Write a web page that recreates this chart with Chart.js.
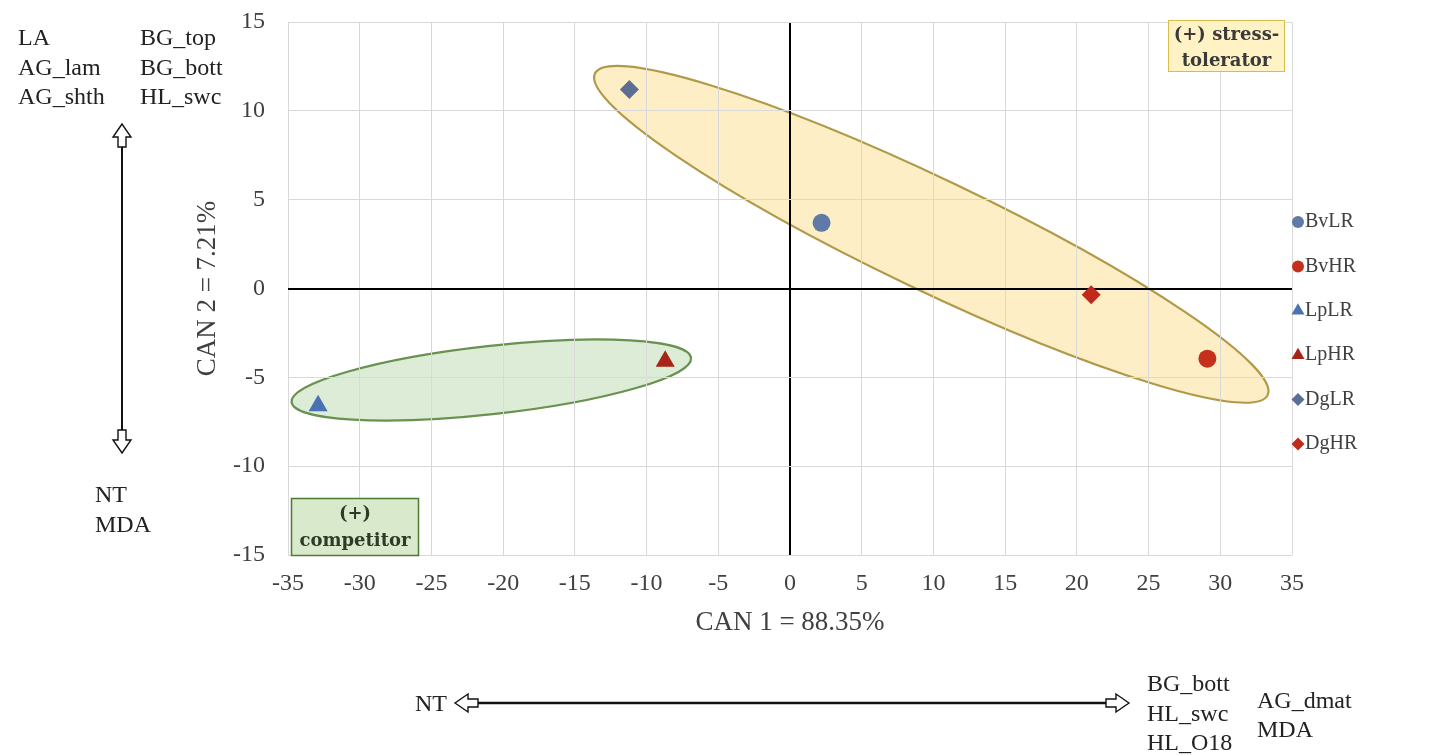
<!DOCTYPE html>
<html>
<head>
<meta charset="utf-8">
<script src="https://cdn.jsdelivr.net/npm/chart.js@4.4.1/dist/chart.umd.min.js"></script>
<style>
  html, body { margin: 0; padding: 0; background: #fff; }
  #wrap { width: 1440px; height: 756px; }
</style>
</head>
<body>
<div id="wrap"><canvas id="can" width="1440" height="756"></canvas></div>
<script>
// group scores on the two canonical axes
const groups = ['BvLR', 'BvHR', 'LpLR', 'LpHR', 'DgLR', 'DgHR'];
const can1 = [2.2, 29.1, -32.9, -8.7, -11.2, 21.0];
const can2 = [3.7, -3.95, -6.6, -4.1, 11.2, -0.35];

// ellipses: ends of the long axis, in CAN1 / CAN2 units
const hullNames = ['stress-tolerator', 'competitor'];
const hullStartX = [-13.6, -34.75];
const hullStartY = [12.1, -6.4];
const hullEndX = [33.3, -6.9];
const hullEndY = [-6.0, -3.9];

// loadings written around the plot
const topLeftCol1 = ['LA', 'AG_lam', 'AG_shth'];
const topLeftCol2 = ['BG_top', 'BG_bott', 'HL_swc'];
const bottomLeft = ['NT', 'MDA'];
const rightCol1 = ['BG_bott', 'HL_swc', 'HL_O18'];
const rightCol2 = ['AG_dmat', 'MDA'];

// styles
const markers = ['circle', 'circle', 'triangle', 'triangle', 'rectRot', 'rectRot'];
const markerSize = [9, 9, 11, 11, 9.5, 9.5];
const legendSize = [6, 6, 7.5, 7.5, 6.5, 6.5];
const colors = ['#5f7aa6', '#c4301c', '#4a72b2', '#a62418', '#5a6f92', '#bf2a1a'];
const hullRatio = [0.149, 0.17];
const hullFill = ['rgba(252, 213, 110, 0.40)', 'rgba(120, 180, 90, 0.25)'];
const hullLine = ['#b09a4a', '#6a9150'];

const serif = '"Liberation Serif", "Times New Roman", serif';
const textCol = '#404040';

const datasets = groups.map((g, i) => ({
    label: g,
    data: [{ x: can1[i], y: can2[i] }],
    pointStyle: markers[i],
    pointRadius: markerSize[i],
    backgroundColor: colors[i],
    borderColor: colors[i],
    borderWidth: 0
}));

// ellipses behind the grid
const hullPlugin = {
    id: 'hulls',
    beforeDraw(chart) {
        const { ctx } = chart;
        const xs = chart.scales.x, ys = chart.scales.y;
        hullNames.forEach((n, i) => {
            const x1 = xs.getPixelForValue(hullStartX[i]), y1 = ys.getPixelForValue(hullStartY[i]);
            const x2 = xs.getPixelForValue(hullEndX[i]), y2 = ys.getPixelForValue(hullEndY[i]);
            const a = Math.hypot(x2 - x1, y2 - y1) / 2;
            ctx.save();
            ctx.beginPath();
            ctx.ellipse((x1 + x2) / 2, (y1 + y2) / 2, a, a * hullRatio[i], Math.atan2(y2 - y1, x2 - x1), 0, Math.PI * 2);
            ctx.fillStyle = hullFill[i];
            ctx.fill();
            ctx.lineWidth = 2.2;
            ctx.strokeStyle = hullLine[i];
            ctx.stroke();
            ctx.restore();
        });
    }
};

function marker(ctx, style, r, x, y) {
    ctx.beginPath();
    if (style === 'circle') {
        ctx.arc(x, y, r, 0, Math.PI * 2);
    } else if (style === 'triangle') {
        ctx.moveTo(x, y - r);
        ctx.lineTo(x + r * 0.866, y + r / 2);
        ctx.lineTo(x - r * 0.866, y + r / 2);
    } else {
        ctx.moveTo(x, y - r);
        ctx.lineTo(x + r, y);
        ctx.lineTo(x, y + r);
        ctx.lineTo(x - r, y);
    }
    ctx.closePath();
    ctx.fill();
}

// open block arrow head; (dx, dy) points from the tip back along the shaft
function arrowHead(ctx, tx, ty, dx, dy) {
    const px = -dy, py = dx;
    const pt = (d, w) => [tx + dx * d + px * w, ty + dy * d + py * w];
    const pts = [pt(0, 0), pt(13, 9), pt(13, 4), pt(23, 4), pt(23, -4), pt(13, -4), pt(13, -9)];
    ctx.beginPath();
    pts.forEach((p, k) => k ? ctx.lineTo(p[0], p[1]) : ctx.moveTo(p[0], p[1]));
    ctx.closePath();
    ctx.fillStyle = '#fff';
    ctx.fill();
    ctx.lineWidth = 1.4;
    ctx.strokeStyle = '#111';
    ctx.stroke();
}

function lines(ctx, arr, x, y, step) {
    arr.forEach((t, k) => ctx.fillText(t, x, y + k * step));
}

const notesPlugin = {
    id: 'notes',
    afterDraw(chart) {
        const { ctx, chartArea: area } = chart;
        ctx.save();

        // legend
        ctx.font = '20px ' + serif;
        ctx.textBaseline = 'middle';
        ctx.textAlign = 'left';
        groups.forEach((g, i) => {
            const yy = 222 + i * 44.4;
            ctx.fillStyle = colors[i];
            marker(ctx, markers[i], legendSize[i], 1298, yy);
            ctx.fillStyle = textCol;
            ctx.fillText(g, 1305, yy);
        });

        // group boxes
        ctx.font = 'bold 18px "DejaVu Serif", serif';
        ctx.textAlign = 'center';
        let bx = area.right - 124, by = area.top - 2;
        ctx.fillStyle = '#fff2c4';
        ctx.fillRect(bx, by, 117, 52);
        ctx.strokeStyle = '#d9bc4e';
        ctx.lineWidth = 1;
        ctx.strokeRect(bx + 0.5, by + 0.5, 116, 51);
        ctx.fillStyle = '#3a3a3a';
        ctx.fillText('(+) stress-', bx + 58.5, by + 15);
        ctx.fillText('tolerator', bx + 58.5, by + 41);

        bx = area.left + 3; by = area.bottom - 57;
        ctx.fillStyle = '#d8eacb';
        ctx.fillRect(bx, by, 128, 58);
        ctx.strokeStyle = '#4d7a32';
        ctx.lineWidth = 1.5;
        ctx.strokeRect(bx + 0.5, by + 0.5, 127, 57);
        ctx.fillStyle = '#2f3a28';
        ctx.fillText('(+)', bx + 64, by + 16);
        ctx.fillText('competitor', bx + 64, by + 43);

        // loadings
        ctx.font = '24px ' + serif;
        ctx.textAlign = 'left';
        ctx.textBaseline = 'alphabetic';
        ctx.fillStyle = '#222';
        lines(ctx, topLeftCol1, 18, 45, 29.5);
        lines(ctx, topLeftCol2, 140, 45, 29.5);
        lines(ctx, bottomLeft, 95, 502, 30);
        lines(ctx, rightCol1, 1147, 691, 29.5);
        lines(ctx, rightCol2, 1257, 708, 29);
        ctx.textAlign = 'right';
        ctx.fillText('NT', 447, 711);

        // vertical arrow
        ctx.strokeStyle = '#111';
        ctx.lineWidth = 2;
        ctx.beginPath();
        ctx.moveTo(122, 146);
        ctx.lineTo(122, 431);
        ctx.stroke();
        arrowHead(ctx, 122, 124, 0, 1);
        arrowHead(ctx, 122, 453, 0, -1);

        // horizontal arrow
        ctx.strokeStyle = '#111';
        ctx.lineWidth = 2.4;
        ctx.beginPath();
        ctx.moveTo(477, 703);
        ctx.lineTo(1107, 703);
        ctx.stroke();
        arrowHead(ctx, 455, 703, 1, 0);
        arrowHead(ctx, 1129, 703, -1, 0);

        ctx.restore();
    }
};

const gridColor = c => (c.tick && c.tick.value === 0) ? '#000' : '#d9d9d9';
const gridWidth = c => (c.tick && c.tick.value === 0) ? 2 : 1;

new Chart(document.getElementById('can'), {
    type: 'scatter',
    data: { datasets: datasets },
    plugins: [hullPlugin, notesPlugin],
    options: {
        responsive: false,
        animation: false,
        layout: { padding: { left: 190, right: 148, top: 22, bottom: 117 } },
        plugins: {
            legend: { display: false },
            tooltip: { enabled: false }
        },
        scales: {
            x: {
                type: 'linear',
                min: -35,
                max: 35,
                ticks: { stepSize: 5, padding: 14, maxRotation: 0, color: textCol, font: { family: serif, size: 24 } },
                grid: { color: gridColor, lineWidth: gridWidth, drawTicks: false },
                border: { display: false },
                title: { display: true, text: 'CAN 1 = 88.35%', color: textCol, padding: 0, font: { family: serif, size: 27 } },
                afterFit: s => { s.height = 84; }
            },
            y: {
                type: 'linear',
                min: -15,
                max: 15,
                ticks: { stepSize: 5, padding: 23, color: textCol, font: { family: serif, size: 24 } },
                grid: { color: gridColor, lineWidth: gridWidth, drawTicks: false },
                border: { display: false },
                title: { display: true, text: 'CAN 2 = 7.21%', color: textCol, padding: { top: 2, bottom: 0 }, font: { family: serif, size: 27 } },
                afterFit: s => { s.width = 98; s.paddingTop = 0; s.paddingBottom = 0; }
            }
        }
    }
});
</script>
</body>
</html>
